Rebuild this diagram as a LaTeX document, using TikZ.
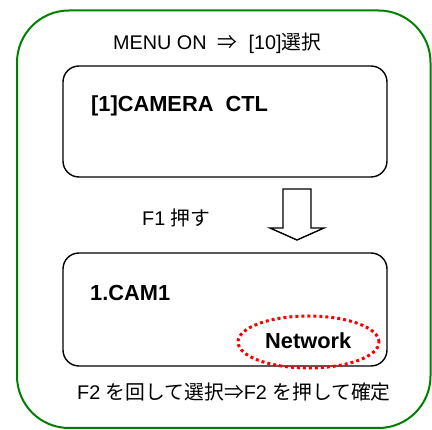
\documentclass[tikz,border=0pt]{standalone}
\usepackage{fontspec}
\setmainfont{Liberation Sans}
\newfontfamily\jp{Noto Sans CJK JP}
\definecolor{frame}{RGB}{0,128,0}
\begin{document}
\begin{tikzpicture}[x=1pt,y=-1pt,
  panel/.style={draw=black,line width=1.4pt,rounded corners=16pt},
  txt/.style={inner sep=0pt,anchor=base west,font=\fontsize{19.8pt}{22pt}\selectfont},
  btxt/.style={inner sep=0pt,anchor=base west,font=\fontsize{21.8pt}{24pt}\selectfont\bfseries}]
\useasboundingbox (0,0) rectangle (432,430);
% outer frame
\draw[frame,line width=2pt,rounded corners=52pt] (17,10.5) rectangle (430.5,428);
% title
\node[txt] (title) at (113,50) {MENU ON\ \ {\jp ⇒}\ \ [10]{\jp 選択}};
% box 1
\draw[panel] (63,66) rectangle (387,177);
\node[btxt] (cam) at (91,111.5) {[1]CAMERA\ \ CTL};
% block arrow
\draw[line width=1.4pt,line join=miter] (283,189) -- (311,189) -- (311,228) -- (324,228) -- (297,240) -- (270,228) -- (283,228) -- cycle;
\node[txt] (f1) at (142,226) {F1 {\jp 押す}};
% box 2
\draw[panel] (63,253) rectangle (387,366);
\node[btxt] (cam1) at (90,301) {1.CAM1};
\node[btxt] (net) at (265,349) {Network};
\draw[red,line width=3pt,dash pattern=on 3pt off 3pt] (308.5,342) ellipse [x radius=70.5pt,y radius=26pt];
% bottom note
\node[txt] (f2) at (77,400) {F2 {\jp を回して選択⇒}F2 {\jp を押して確定}};
\end{tikzpicture}
\end{document}
